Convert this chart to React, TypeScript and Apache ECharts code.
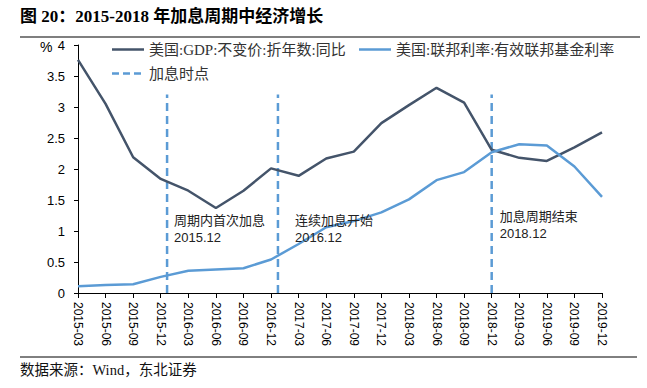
import React, { useEffect, useRef } from "react";
import * as echarts from "echarts";

const categories = [
  "2015-03", "2015-06", "2015-09", "2015-12",
  "2016-03", "2016-06", "2016-09", "2016-12",
  "2017-03", "2017-06", "2017-09", "2017-12",
  "2018-03", "2018-06", "2018-09", "2018-12",
  "2019-03", "2019-06", "2019-09", "2019-12",
];
const gdpYoY = [3.76, 3.05, 2.19, 1.84, 1.65, 1.37, 1.65, 2.01, 1.89, 2.17, 2.28, 2.74, 3.03, 3.31, 3.07, 2.31, 2.18, 2.13, 2.35, 2.59];
const fedRate = [0.11, 0.13, 0.14, 0.26, 0.36, 0.38, 0.40, 0.54, 0.79, 1.06, 1.16, 1.30, 1.51, 1.82, 1.95, 2.27, 2.40, 2.38, 2.04, 1.55];
// rate-hike markers (position along the category index axis)
const hikeX = [3.23, 7.25, 15];
const hikeTop = 3.2;
const hikeNotes = ["周期内首次加息\n2015.12", "连续加息开始\n2016.12", "加息周期结束\n2018.12"];
const hikeNoteY = [1.035, 1.035, 1.1];
const yTicks = { min: 0, max: 4, interval: 0.5 };

const GDP_NAME = "美国:GDP:不变价:折年数:同比";
const FED_NAME = "美国:联邦利率:有效联邦基金利率";
const HIKE_NAME = "加息时点";

const DARK = "#44546A";
const BLUE = "#5B9BD5";
const SANS = "'Liberation Sans', 'Noto Sans CJK SC', sans-serif";
const LEG = "'Liberation Serif', 'Noto Sans CJK SC', serif";

const SOLID_ICON = "path://M0,0H32V2.5H0Z";
const DASH_ICON = "path://M0,0H7V2.5H0Z M11,0H18V2.5H11Z M22,0H29V2.5H22Z M32,0H32.01V2.5H32Z";

export default function App() {
  const ref = useRef<HTMLDivElement>(null);
  useEffect(() => {
    if (!ref.current) return;
    const chart = echarts.init(ref.current, undefined, { renderer: "svg" });
    const hikeData: any[] = [];
    hikeX.forEach((x) => {
      hikeData.push([x, 0], [x, hikeTop], [x, "-"]);
    });
    const noteOffsets = [[7, 0], [17, 0], [8, 0]];
    const legendText = { fontFamily: LEG, fontSize: 15, color: "#333" };
    chart.setOption({
      animation: false,
      backgroundColor: "#fff",
      grid: { left: 78, right: 45, top: 45, bottom: 95, containLabel: false },
      legend: [
        {
          data: [{ name: GDP_NAME, icon: SOLID_ICON }], left: 112, top: 42, itemWidth: 32, itemHeight: 2.5, itemGap: 5,
          textStyle: legendText, padding: 0,
        },
        {
          data: [{ name: FED_NAME, icon: SOLID_ICON }], left: 359, top: 42, itemWidth: 32, itemHeight: 2.5,
          textStyle: legendText, padding: 0,
        },
        {
          data: [{ name: HIKE_NAME, icon: DASH_ICON }], left: 112, top: 66, itemWidth: 32, itemHeight: 2.5,
          textStyle: legendText, padding: 0,
        },
      ],
      xAxis: {
        type: "value",
        min: 0,
        max: categories.length - 1,
        interval: 1,
        axisLine: { show: true, lineStyle: { color: "#000", width: 1 } },
        axisTick: { show: true, length: 5, lineStyle: { color: "#000" } },
        splitLine: { show: false },
        axisLabel: {
          rotate: -90,
          margin: 9,
          fontFamily: SANS,
          fontSize: 12,
          color: "#000",
          formatter: (v: number) => categories[Math.round(v)] ?? "",
        },
      },
      yAxis: {
        type: "value",
        min: yTicks.min,
        max: yTicks.max,
        interval: yTicks.interval,
        axisLine: { show: true, lineStyle: { color: "#000", width: 1 } },
        axisTick: { show: true, length: 4, lineStyle: { color: "#000" } },
        splitLine: { show: false },
        axisLabel: { margin: 13, fontFamily: SANS, fontSize: 13, color: "#000" },
      },
      graphic: [
        {
          type: "text", left: 20, top: 8,
          style: { text: "图 20：2015-2018 年加息周期中经济增长", fontFamily: "'Liberation Serif', 'Noto Sans CJK SC', serif", fontWeight: "bold", fontSize: 17, fill: "#000" },
        },
        { type: "line", shape: { x1: 20, y1: 37, x2: 640, y2: 37 }, style: { stroke: "#000", lineWidth: 1.2 } },
        { type: "line", shape: { x1: 20, y1: 357, x2: 637, y2: 357 }, style: { stroke: "#000", lineWidth: 1 } },
        {
          type: "text", left: 20, top: 363,
          style: { text: "数据来源：Wind，东北证券", fontFamily: "'Liberation Serif', 'Noto Sans CJK SC', serif", fontSize: 14.5, fill: "#111" },
        },
        {
          type: "text", left: 40, top: 40,
          style: { text: "%", fontFamily: SANS, fontSize: 14, fill: "#000" },
        },
      ],
      series: [
        {
          name: GDP_NAME,
          type: "line",
          data: gdpYoY.map((v, i) => [i, v]),
          symbol: "none",
          lineStyle: { color: DARK, width: 2.5 },
          itemStyle: { color: DARK },
          z: 3,
        },
        {
          name: FED_NAME,
          type: "line",
          data: fedRate.map((v, i) => [i, v]),
          symbol: "none",
          lineStyle: { color: BLUE, width: 2.5 },
          itemStyle: { color: BLUE },
          z: 4,
        },
        {
          name: HIKE_NAME,
          type: "line",
          data: hikeData,
          symbol: "none",
          connectNulls: false,
          lineStyle: { color: BLUE, width: 2.5, type: [8, 5] },
          itemStyle: { color: BLUE },
          z: 2,
          markPoint: {
            symbol: "rect",
            symbolSize: 0,
            silent: true,
            data: hikeX.map((x, i) => ({
              coord: [x, hikeNoteY[i]],
              value: hikeNotes[i],
              label: {
                show: true,
                position: [0, 0],
                align: "left",
                verticalAlign: "middle",
                offset: noteOffsets[i],
                formatter: hikeNotes[i],
                fontFamily: SANS,
                fontSize: 13,
                lineHeight: 17,
                color: "#222",
              },
            })),
          },
        },
      ],
    });
    return () => chart.dispose();
  }, []);
  return <div ref={ref} style={{ width: 647, height: 388, position: "absolute", left: 0, top: 0 }} />;
}
